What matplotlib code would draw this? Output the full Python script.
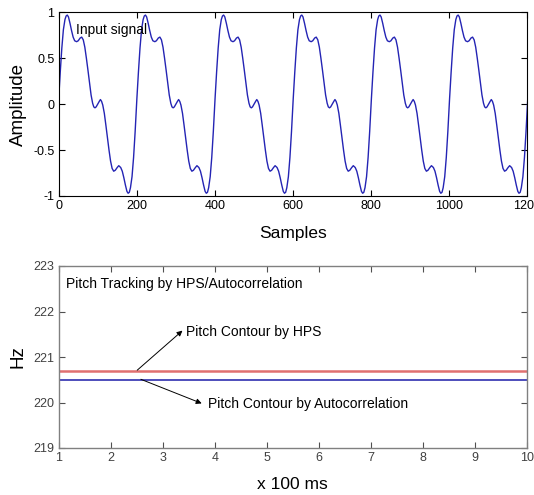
import numpy as np
import matplotlib
matplotlib.use("Agg")
import matplotlib.pyplot as plt

# ---- data ----
# one period of the input signal (sample offset within period, amplitude)
period_t = [0, 4, 8, 12, 16, 19, 22, 25, 29, 33, 37, 41, 46, 50, 55, 59, 63, 67,
            71, 75, 79, 83, 87, 90, 93, 96, 100, 104, 107, 110, 113, 117, 121,
            125, 129, 133, 137, 141, 145, 150, 154, 159, 163, 167, 171, 175,
            178, 181, 184, 188, 192, 196]
period_amp = [0.06, 0.35, 0.61, 0.81, 0.92, 0.96, 0.97, 0.95, 0.88, 0.80, 0.73,
              0.69, 0.68, 0.69, 0.72, 0.73, 0.70, 0.62, 0.50, 0.37, 0.23, 0.10,
              0.01, -0.03, -0.04, -0.03, 0.00, 0.03, 0.05, 0.03, -0.01, -0.10,
              -0.23, -0.37, -0.50, -0.62, -0.70, -0.73, -0.72, -0.69, -0.67,
              -0.69, -0.73, -0.80, -0.88, -0.95, -0.97, -0.96, -0.91, -0.79,
              -0.58, -0.30]
period_len = 200.45        # samples per cycle (about 6 cycles in 1200 samples)
n_cycles = 7

frames = [1, 2, 3, 4, 5, 6, 7, 8, 9, 10]            # x 100 ms
pitch_hps = [220.7] * 10                             # Hz
pitch_acf = [220.5] * 10                             # Hz

top_xticks = [0, 200, 400, 600, 800, 1000, 1200]
top_yticks = [-1, -0.5, 0, 0.5, 1]
top_yticklabels = ["-1", "-0.5", "0", "0.5", "1"]
bot_xticks = [1, 2, 3, 4, 5, 6, 7, 8, 9, 10]
bot_yticks = [219, 220, 221, 222, 223]

# build sample axis by repeating the read period
sig_t = np.concatenate([np.array(period_t) + k * period_len for k in range(n_cycles)])
sig_a = np.tile(np.array(period_amp), n_cycles)

# ---- figure ----
plt.rcParams['font.family'] = ['Liberation Sans', 'DejaVu Sans']
W, H = 534, 495
fig = plt.figure(figsize=(W / 100, H / 100), dpi=100)
fig.patch.set_facecolor('white')

tick_font = dict(family=['Liberation Sans Narrow', 'Liberation Sans'], size=9)

# top axes
ax1 = fig.add_axes([58.7 / W, 1 - 196 / H, 468 / W, (196 - 12.3) / H])
ax1.plot(sig_t, sig_a, color='#2424b4', lw=1.0)
ax1.set_xlim(0, 1200)
ax1.set_ylim(-1, 1)
ax1.set_xticks(top_xticks)
ax1.set_yticks(top_yticks)
ax1.set_yticklabels(top_yticklabels)
ax1.tick_params(direction='in', length=4, width=0.8, top=True, right=True,
                colors='black', pad=3)
for lab in ax1.get_xticklabels() + ax1.get_yticklabels():
    lab.set_fontfamily(tick_font['family'])
    lab.set_fontsize(tick_font['size'])
for sp in ax1.spines.values():
    sp.set_color('black')
    sp.set_linewidth(0.8)
ax1.set_xlabel('Samples', fontsize=12.5, labelpad=10)
ax1.set_ylabel('Amplitude', fontsize=13.5)
ax1.yaxis.set_label_coords(-0.068, 0.5)
ax1.text(44, 0.81, 'Input signal', fontsize=10, va='center', ha='left',
         color='black')

# bottom axes
ax2 = fig.add_axes([58.7 / W, 1 - 448 / H, 468 / W, (448 - 266) / H])
ax2.plot(frames, pitch_hps, color='#e07070', lw=1.8)
ax2.plot(frames, pitch_acf, color='#1c1ca8', lw=1.1)
ax2.set_xlim(1, 10)
ax2.set_ylim(219, 223)
ax2.set_xticks(bot_xticks)
ax2.set_yticks(bot_yticks)
ax2.tick_params(direction='in', length=4, width=0.8, top=True, right=True,
                colors='#505050', labelcolor='#404040', pad=3)
for lab in ax2.get_xticklabels() + ax2.get_yticklabels():
    lab.set_fontfamily(tick_font['family'])
    lab.set_fontsize(tick_font['size'])
for sp in ax2.spines.values():
    sp.set_color('#808080')
    sp.set_linewidth(1.0)
ax2.set_xlabel('x 100 ms', fontsize=12.5, labelpad=9)
ax2.set_ylabel('Hz', fontsize=13.5)
ax2.yaxis.set_label_coords(-0.068, 0.5)

ax2.text(1.15, 222.6, 'Pitch Tracking by HPS/Autocorrelation', fontsize=10,
         va='center', ha='left', color='black')
ax2.annotate('', xy=(3.38, 221.58), xytext=(2.51, 220.71),
             arrowprops=dict(arrowstyle='-|>', color='black', lw=0.7,
                             mutation_scale=8, shrinkA=0, shrinkB=0))
ax2.text(3.45, 221.56, 'Pitch Contour by HPS', fontsize=10, va='center',
         ha='left', color='black')
ax2.annotate('', xy=(3.75, 219.98), xytext=(2.58, 220.51),
             arrowprops=dict(arrowstyle='-|>', color='black', lw=0.7,
                             mutation_scale=8, shrinkA=0, shrinkB=0))
ax2.text(3.88, 219.96, 'Pitch Contour by Autocorrelation', fontsize=10,
         va='center', ha='left', color='black')

fig.savefig('out.png', dpi=100, facecolor='white')
